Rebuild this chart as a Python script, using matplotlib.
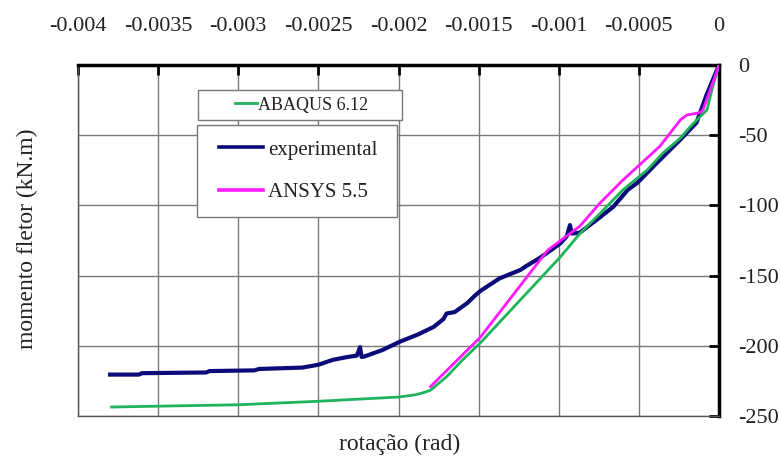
import matplotlib.pyplot as plt
import numpy as np
from matplotlib.patches import Rectangle
from matplotlib.lines import Line2D

plt.rcParams['font.family'] = ['Liberation Serif', 'DejaVu Serif']

# experimental curve (rotation rad, moment kN.m)
exp_rot = [-0.00380, -0.00362, -0.00360, -0.00320, -0.00318, -0.00290, -0.00287,
           -0.00260, -0.00250, -0.00241, -0.00232, -0.00226, -0.00224, -0.00223,
           -0.00221, -0.00210, -0.00199, -0.00188, -0.00178, -0.00172, -0.00170,
           -0.00165, -0.00157, -0.00153, -0.00149, -0.00145, -0.00137, -0.00124,
           -0.00120, -0.00112, -0.00105, -0.00099, -0.00095, -0.00093, -0.00092,
           -0.00087, -0.00076, -0.00066, -0.00057, -0.00051, -0.00039, -0.00024,
           -0.00014, -0.00008, 0.0]
exp_mom = [-220.5, -220.5, -219.5, -219, -218, -217.5, -216.5,
           -215.5, -213.5, -210, -208, -207, -201, -208,
           -207.5, -203, -197, -192, -186.5, -181, -177,
           -176, -169.5, -165, -161, -158, -152, -146,
           -143, -137.5, -132, -127, -122, -114, -120,
           -119.5, -110, -101, -89, -84, -70, -53,
           -41, -22, 0]

# ABAQUS 6.12
abq_rot = [-0.00379, -0.0035, -0.0030, -0.0025, -0.0020, -0.00190, -0.001845,
           -0.0018, -0.0017, -0.0016, -0.00149, -0.00099, -0.000867, -0.000742,
           -0.0006, -0.00045, -0.00035, -0.00024, -0.00018, -0.00012, -0.000075,
           -0.00004, 0.0]
abq_mom = [-243.6, -243, -242, -239.5, -236.5, -235, -233.4,
           -231.6, -222, -210, -198, -136.7, -119.9, -105.7,
           -89, -75, -62.7, -52, -44, -37, -32,
           -15.6, 0]

# ANSYS 5.5
ans_rot = [-0.0018, -0.00149, -0.00107, -0.00087, -0.00074, -0.0006, -0.00037,
           -0.00024, -0.0002, -0.00012, -0.0001, -0.000056, -0.00003, 0.0]
ans_mom = [-229, -194, -132, -115, -98, -82, -58,
           -39, -35.6, -34, -32, -18, -10, 0]

xticks = [-0.004, -0.0035, -0.003, -0.0025, -0.002, -0.0015, -0.001, -0.0005, 0]
xticklabels = ['-0.004', '-0.0035', '-0.003', '-0.0025', '-0.002', '-0.0015',
               '-0.001', '-0.0005', '0']
yticks = [0, -50, -100, -150, -200, -250]
yticklabels = ['0', '-50', '-100', '-150', '-200', '-250']

navy = '#0b0b7a'
green = '#1fb35a'
pink = '#ff19ff'

fig = plt.figure(figsize=(7.8, 4.57), dpi=100)
ax = fig.add_axes([0.1, 0.0897, 0.8218, 0.7681])

ax.plot(abq_rot, abq_mom, color=green, lw=2.0, zorder=3)
ax.plot(ans_rot, ans_mom, color=pink, lw=2.0, zorder=4)
ax.plot(exp_rot, exp_mom, color=navy, lw=3.0, zorder=2)

ax.set_xlim(-0.004, 0)
ax.set_ylim(-250, 0)
ax.set_xticks(xticks)
ax.set_xticklabels(xticklabels)
ax.set_yticks(yticks)
ax.set_yticklabels(yticklabels)
ax.xaxis.tick_top()
ax.yaxis.tick_right()
ax.tick_params(axis='x', direction='in', length=7, width=2, pad=21,
               labelsize=16, colors='black', labelcolor='#222222')
ax.tick_params(axis='y', direction='in', length=7, width=2, pad=14,
               labelsize=16, colors='black', labelcolor='#222222')
ax.grid(True, color='#7a7a7a', lw=1.0)
ax.set_axisbelow(True)

for s in ['top', 'right']:
    ax.spines[s].set_linewidth(2.5)
    ax.spines[s].set_color('black')
for s in ['left', 'bottom']:
    ax.spines[s].set_linewidth(1.0)
    ax.spines[s].set_color('#555555')

# legend boxes
ax.add_patch(Rectangle((0.187, 0.843), 0.318, 0.086, transform=ax.transAxes,
                       facecolor='white', edgecolor='#777777', lw=1.0, zorder=5))
ax.add_patch(Rectangle((0.186, 0.567), 0.312, 0.262, transform=ax.transAxes,
                       facecolor='white', edgecolor='#777777', lw=1.0, zorder=5))

leg1 = ax.legend([Line2D([], [], color=green, lw=2)], ['ABAQUS 6.12'],
                 loc='center', bbox_to_anchor=(0.349, 0.886), frameon=False,
                 fontsize=13, handlelength=1.2, handletextpad=0.1)
leg1.set_zorder(6)
ax.add_artist(leg1)
leg2 = ax.legend([Line2D([], [], color=navy, lw=2.6), Line2D([], [], color=pink, lw=2.6)],
                 ['experimental', 'ANSYS 5.5'],
                 loc='center', bbox_to_anchor=(0.344, 0.698), frameon=False,
                 fontsize=15, handlelength=2.1, handletextpad=0.25, labelspacing=1.1)
leg2.set_zorder(6)
for t in leg1.get_texts() + leg2.get_texts():
    t.set_color('#222222')

fig.text(0.035, 0.477, 'momento fletor (kN.m)', rotation=90, ha='center', va='center',
         fontsize=17, color='#222222')
fig.text(0.512, 0.027, 'rotação (rad)', ha='center', va='center',
         fontsize=17, color='#222222')

fig.savefig('out.png', dpi=100)
